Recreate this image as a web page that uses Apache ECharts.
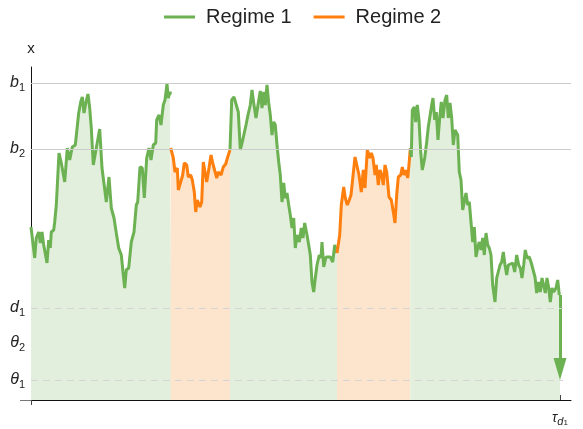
<!DOCTYPE html>
<html>
<head>
<meta charset="utf-8">
<script src="https://cdn.jsdelivr.net/npm/echarts@6/dist/echarts.min.js"></script>
<style>
  html, body { margin: 0; padding: 0; background: #fff; }
  #chart { width: 583px; height: 429px; }
</style>
</head>
<body>
<div id="chart"></div>
<script>
// path segments, [t, x] pairs
const regime1a = [
  [0, 173], [3.7, 142], [5.3, 162], [7.7, 168], [9.3, 157], [11, 168], [12.7, 155], [16, 137],
  [17.7, 160], [19.3, 152], [20.3, 168], [22.7, 170], [23.7, 178], [25.3, 195], [28, 247],
  [30.3, 237], [33.7, 218], [36.3, 252], [38.7, 240], [41.3, 253], [44.3, 255], [45.7, 268],
  [47.7, 287], [49.7, 298], [51.3, 303], [53, 287], [55, 298], [57, 306], [58.7, 292],
  [60.3, 272], [62.3, 235], [65.3, 252], [68.7, 271], [71, 232], [75.3, 198], [78, 223],
  [80.3, 192], [83, 182], [85.3, 167], [87.7, 152], [90.3, 145], [92, 128], [93.7, 112],
  [95.3, 130], [97.7, 132], [100.3, 158], [103, 168], [105.3, 195], [106.7, 198], [109, 233],
  [111.3, 232], [113.3, 202], [115.7, 242], [118, 252], [120, 240], [122.3, 255], [124.7, 257],
  [125.7, 280], [128, 285], [130, 275], [132.3, 295], [134, 300], [136, 316], [137.3, 302],
  [138.7, 307], [140.7, 307]
];
const regime2a = [
  [139.7, 252], [142.3, 242], [144, 228], [146.3, 232], [147.3, 210], [149.7, 218], [151.7, 225],
  [153.3, 237], [155.7, 235], [157.3, 223], [159.7, 225], [161.3, 220], [163.3, 208], [164.7, 188],
  [166.3, 200], [169, 193], [170.7, 198], [172.3, 238], [174, 237], [175.7, 218], [178, 232],
  [180, 245], [181.7, 237], [183.3, 238], [185.7, 222], [187.3, 228], [190, 225], [192.3, 233],
  [194.7, 236], [196.7, 243], [199, 250]
];
const regime1b = [
  [199, 250], [200.7, 300], [203, 303], [205, 305], [207.3, 288], [209.3, 250], [211.3, 258],
  [215, 275], [217, 285], [219.3, 295], [221, 310], [222.7, 297], [225, 282], [227, 295],
  [229.3, 309], [231, 292], [232.7, 308], [234.3, 295], [236, 315], [237.7, 297], [239.3, 285],
  [241, 265], [242.7, 278], [244.3, 275], [246, 255], [247.7, 238], [249.3, 225], [251, 198],
  [252.7, 217], [254.3, 202], [256, 207], [257.7, 195], [259.3, 185], [261, 172], [262.7, 182],
  [264.3, 152], [266, 165], [268.3, 158], [270.3, 172], [272, 162], [273.7, 177], [276, 165],
  [277.7, 155], [279.3, 145], [281, 118], [282.7, 108], [284.3, 122], [286, 135], [288.3, 145],
  [290, 142], [291, 158], [292.7, 133], [295, 143], [297, 142], [299.3, 143], [301.7, 138],
  [303.7, 155], [306, 147]
];
const regime2b = [
  [306, 147], [308.7, 165], [310.3, 195], [312.7, 213], [314.3, 202], [316.3, 195], [318.3, 200],
  [320, 205], [322, 203], [324, 243], [326, 242], [328, 225], [330.3, 208], [332.3, 230],
  [334, 212], [336.3, 250], [338.7, 242], [340.3, 247], [342, 242], [344, 225], [345.3, 235],
  [347.3, 215], [349, 230], [350.7, 225], [352.3, 215], [354, 235], [355.7, 228], [358, 203],
  [360.3, 200], [362.3, 188], [364, 177], [365.7, 205], [367.3, 223], [369.7, 225], [371.3, 233],
  [373, 225], [374.7, 230], [376.7, 222], [378, 235], [379.3, 252]
];
const regime1c = [
  [379.3, 252], [380.3, 243], [381.3, 290], [383.3, 293], [384.7, 278], [386.3, 295], [388, 280],
  [389.7, 248], [391.3, 230], [393.7, 242], [395.7, 258], [397.3, 273], [399, 272], [400.7, 295],
  [402, 302], [403.7, 280], [405.3, 288], [407, 260], [408.7, 282], [410.3, 298], [412, 282],
  [414, 300], [415.7, 305], [417.3, 282], [419, 297], [420.7, 282], [422.3, 255], [424, 270],
  [426.7, 265], [428.3, 228], [430, 220], [431.7, 190], [433.3, 192], [435, 207], [436.7, 195],
  [438.3, 198], [440, 178], [441.7, 158], [443.3, 173], [445, 143], [446.7, 152], [448.3, 158],
  [450, 150], [451.7, 162], [453.3, 145], [455, 167], [456.7, 155], [458.3, 152], [460, 145],
  [461.7, 115], [464, 98], [465.7, 122], [467.3, 123], [469, 135], [470.7, 138], [472.3, 148],
  [474, 135], [475.7, 125], [477.3, 135], [479.3, 133], [481.7, 137], [483.7, 128], [485.7, 145],
  [487.7, 135], [489.3, 132], [491, 122], [492.7, 135], [494.3, 150], [496, 142], [498.3, 143],
  [500.3, 137], [502.3, 135], [504, 123], [505.7, 107], [507.7, 118], [509.3, 108], [511, 122],
  [512.7, 123], [514.3, 107], [516, 122], [517.7, 112], [519.3, 98], [521, 112], [522.7, 108],
  [525, 112], [526.7, 120], [528.3, 105], [529, 105]
];

const levelKeys = ['b1', 'b2', 'd1', 'θ2', 'θ1'];
const levelValues = [317, 251, 92, 57, 20];
const tau = 529;
const xMax = 540;
const yMax = 333;

const green = '#6cb152';
const orange = '#ff7f0e';
const greenFill = '#e2efdc';
const orangeFill = '#fde4cc';
const font = 'Liberation Sans';

const lvl = k => levelValues[levelKeys.indexOf(k)];

const labelRich = {
  m: { fontFamily: font, fontStyle: 'italic', fontSize: 16, color: '#222', lineHeight: 20 },
  s: { fontFamily: font, fontSize: 11, color: '#222', lineHeight: 12, verticalAlign: 'bottom' }
};

function segment(name, color, fill, data) {
  return {
    name,
    type: 'line',
    data,
    symbol: 'none',
    lineStyle: { color, width: 3 },
    itemStyle: { color },
    areaStyle: { color: fill, opacity: 1, origin: 'start' },
    z: 2,
    silent: true
  };
}

const lastGreen = regime1c[regime1c.length - 1];
const arrowSeries = segment('Regime 1', green, greenFill, regime1c);
arrowSeries.markLine = {
  silent: true,
  symbol: ['none', 'triangle'],
  symbolSize: [13, 22],
  label: { show: false },
  lineStyle: { color: green, width: 3, type: 'solid' },
  data: [[{ coord: [tau, lastGreen[1]] }, { coord: [tau, lvl('θ1') + 11] }]]
};

const solidRef = { color: '#cccccc', width: 1, type: 'solid' };
const dashRef = { color: '#d4d4d4', width: 1, type: [7, 5] };

const option = {
  animation: false,
  textStyle: { fontFamily: font },
  legend: {
    data: ['Regime 1', 'Regime 2'],
    left: 159,
    top: 2,
    icon: 'rect',
    itemWidth: 31,
    itemHeight: 3,
    itemGap: 22,
    textStyle: { fontSize: 20, color: '#222', padding: [0, 0, 0, 6] }
  },
  grid: { left: 31, right: 12, top: 67, bottom: 29 },
  xAxis: [{
    type: 'value',
    min: 0,
    max: xMax,
    axisLine: { lineStyle: { color: '#111', width: 1 } },
    axisTick: { show: true, customValues: [0], length: 5, lineStyle: { color: '#444' } },
    axisLabel: {
      customValues: [tau],
      margin: 9,
      formatter: () => '{t|τ}{d|d}{o|1}',
      rich: {
        t: { fontFamily: font, fontStyle: 'italic', fontSize: 14, color: '#222', lineHeight: 18 },
        d: { fontFamily: font, fontStyle: 'italic', fontSize: 11, color: '#222', lineHeight: 12, verticalAlign: 'bottom' },
        o: { fontFamily: font, fontSize: 8, color: '#222', lineHeight: 8, verticalAlign: 'bottom' }
      }
    },
    splitLine: { show: false }
  }, {
    type: 'value',
    min: 0,
    max: xMax,
    position: 'bottom',
    axisLine: { show: false },
    axisTick: { show: true, inside: true, customValues: [tau], length: 5, lineStyle: { color: '#444' } },
    axisLabel: { show: false },
    splitLine: { show: false }
  }],
  yAxis: [{
    type: 'value',
    min: 0,
    max: yMax,
    name: 'x',
    nameLocation: 'end',
    nameGap: 11,
    nameTextStyle: { fontFamily: font, fontSize: 15, color: '#222', align: 'center' },
    axisLine: { lineStyle: { color: '#111', width: 1 } },
    axisTick: { show: true, inside: true, customValues: levelValues, length: 6, lineStyle: { color: '#555' } },
    axisLabel: {
      customValues: levelValues,
      margin: 6,
      formatter: v => {
        const k = levelKeys[levelValues.indexOf(v)];
        return k ? '{m|' + k[0] + '}{s|' + k.slice(1) + '}' : '';
      },
      rich: labelRich
    },
    splitLine: { show: false }
  }, {
    type: 'value',
    min: 0,
    max: yMax,
    position: 'left',
    axisLine: { show: false },
    axisTick: { show: true, customValues: [0], length: 11, lineStyle: { color: '#777' } },
    axisLabel: { show: false },
    splitLine: { show: false }
  }],
  series: [
    segment('Regime 1', green, greenFill, regime1a),
    segment('Regime 2', orange, orangeFill, regime2a),
    segment('Regime 1', green, greenFill, regime1b),
    segment('Regime 2', orange, orangeFill, regime2b),
    arrowSeries,
    {
      name: 'levels',
      type: 'line',
      data: [],
      z: 4,
      silent: true,
      markLine: {
        silent: true,
        symbol: 'none',
        label: { show: false },
        data: [
          { yAxis: lvl('b1'), lineStyle: solidRef },
          { yAxis: lvl('b2'), lineStyle: solidRef },
          [{ coord: [0, lvl('d1')], lineStyle: dashRef }, { coord: [tau + 3, lvl('d1')] }],
          [{ coord: [0, lvl('θ1')], lineStyle: dashRef }, { coord: [tau + 3, lvl('θ1')] }]
        ]
      }
    }
  ]
};

const chart = echarts.init(document.getElementById('chart'));
chart.setOption(option);
</script>
</body>
</html>
